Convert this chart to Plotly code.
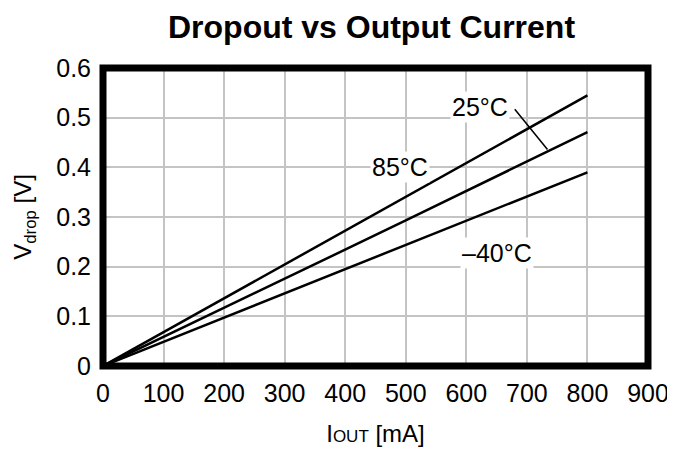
import plotly.graph_objects as go

current_ma = [0, 300, 500, 800]
vdrop_85c = [0, 0.205, 0.340, 0.545]
vdrop_25c = [0, 0.176, 0.293, 0.471]
vdrop_m40c = [0, 0.146, 0.243, 0.390]

x_ticks = [0, 100, 200, 300, 400, 500, 600, 700, 800, 900]
y_ticks = [0, 0.1, 0.2, 0.3, 0.4, 0.5, 0.6]
y_tick_labels = ["0", "0.1", "0.2", "0.3", "0.4", "0.5", "0.6"]

FONT = "Liberation Sans, Arial, sans-serif"

fig = go.Figure()
for name, ys in [("85°C", vdrop_85c), ("25°C", vdrop_25c), ("–40°C", vdrop_m40c)]:
    fig.add_trace(go.Scatter(x=current_ma, y=ys, mode="lines", name=name,
                             line=dict(color="black", width=2.5), showlegend=False))

fig.update_layout(
    width=667, height=442,
    margin=dict(l=95, r=27, t=60, b=84),
    paper_bgcolor="white", plot_bgcolor="white",
    font=dict(family=FONT, color="black"),
    title=dict(text="<b>Dropout vs Output Current</b>", x=0.545, xanchor="center",
               y=0.958, yanchor="middle", font=dict(size=32, family=FONT)),
    showlegend=False,
)
fig.update_xaxes(range=[0, 900], tickvals=x_ticks, showgrid=True, gridcolor="#c4c4c4", gridwidth=2,
                 zeroline=False, showline=False, ticks="outside", ticklen=5, tickcolor="rgba(0,0,0,0)",
                 tickfont=dict(size=25), automargin=False, ticklabeloverflow="allow",
                 title=dict(text="I<span style='font-size:17px'>OUT</span> [mA]", font=dict(size=24), standoff=19))
fig.update_yaxes(range=[0, 0.6], tickvals=y_ticks, ticktext=y_tick_labels, showgrid=True,
                 gridcolor="#c4c4c4", gridwidth=2,
                 zeroline=False, showline=False, ticks="outside", ticklen=6, tickcolor="rgba(0,0,0,0)",
                 tickfont=dict(size=25), automargin=False,
                 title=dict(text="V<sub>drop</sub> [V]", font=dict(size=24), standoff=17))

fig.add_shape(type="rect", xref="paper", yref="paper", x0=0, y0=0, x1=1, y1=1,
              line=dict(color="black", width=7), layer="above")
fig.add_shape(type="line", xref="x", yref="y", x0=680, y0=0.517, x1=734, y1=0.436,
              line=dict(color="black", width=1.5))

for txt, x, y in [("85°C", 490, 0.400), ("25°C", 622, 0.521), ("–40°C", 650, 0.227)]:
    fig.add_annotation(x=x, y=y, xref="x", yref="y", text=txt, showarrow=False,
                       font=dict(size=25), bgcolor="white", borderpad=1)

fig.write_html("out.html")
